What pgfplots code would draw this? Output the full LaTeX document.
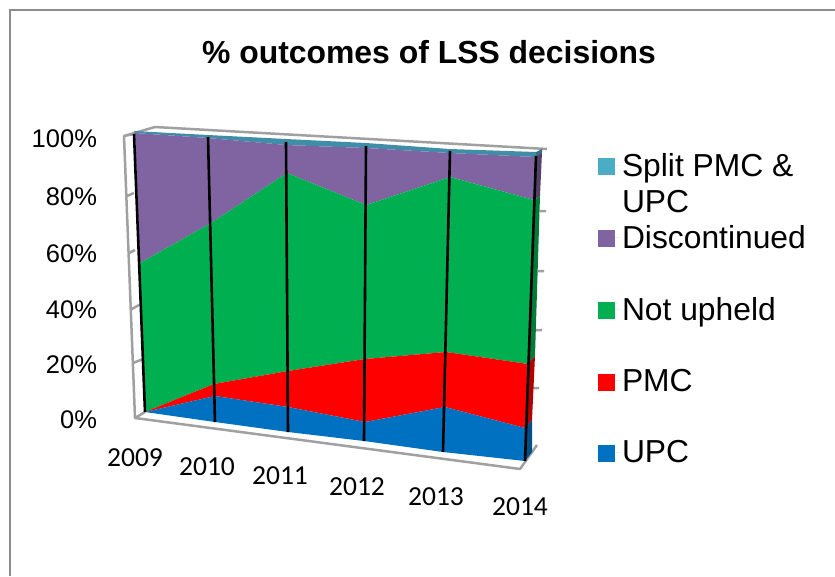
\documentclass[border=0pt]{standalone}
\usepackage{fontspec}
\setmainfont{Liberation Sans}
\newfontfamily\calibri{Carlito}
\usepackage{pgfplots}
\pgfplotsset{compat=1.18}
\definecolor{split}{HTML}{4BACC6}
\definecolor{splittop}{HTML}{3F8DA6}
\definecolor{disc}{HTML}{8064A2}
\definecolor{nup}{HTML}{00B050}
\definecolor{pmc}{HTML}{FF0000}
\definecolor{upc}{HTML}{0070C0}
\definecolor{wall}{HTML}{A0A0A0}
\begin{document}
\begin{tikzpicture}[
    ylab/.style={anchor=east, font=\fontsize{25.5}{28}\selectfont},
    xlab/.style={font=\calibri\fontsize{27.5}{30}\selectfont},
]
\useasboundingbox (0,0) rectangle (835pt,576pt);
\begin{axis}[
    at={(0,0)}, anchor=south west,
    scale only axis, width=835pt, height=576pt,
    xmin=0, xmax=835, ymin=0, ymax=576,
    y dir=reverse,
    hide axis,
    legend cell align=left,
    legend style={at={(axis cs:598,151)}, anchor=north west, draw=none, fill=none,
        inner sep=0pt, outer sep=0pt, row sep=43.5pt,
        font=\fontsize{31.8}{36}\selectfont},
    legend image code/.code={\fill[#1] (0pt,-10pt) rectangle (17pt,7pt); \path[draw=none] (0pt,0pt) -- (22pt,0pt);},
]
% chart frame
\draw[color=gray!90, line width=2pt] (10,576) -- (10,10) -- (835,10);
\node[font=\bfseries\fontsize{31.9}{34}\selectfont] at (429,52) {\% outcomes of LSS decisions};

% walls and floor, all positions in pixels of the 3-D projection
\draw[wall, line width=2.5pt, line join=round]
    (155,127) -- (547,149)
    (155,127) -- (124,136) -- (135,418) -- (520,469) -- (537,445)
    (124,136) -- (134,134)
    (135,418) -- (145,412)
    (127,196) -- (134,193) (129,253) -- (135,250) (132,309) -- (139,305) (133,363) -- (143,359)
    (540,211) -- (546,211) (538,271) -- (544,271) (536,330) -- (542,330) (533,388) -- (539,388);

% stacked areas, front face
\addplot[draw=none, fill=splittop, legend image post style={fill=split}] coordinates {
    (134,131) (208,135) (286,139) (366,143) (450,149) (536,152)
    (536,157) (450,153) (366,148) (286,145) (208,138) (135,133)};
\addlegendentry{\parbox[t]{190pt}{Split PMC \&\\UPC}}
\addplot[draw=none, fill=disc] coordinates {
    (135,133) (208,138) (286,145) (366,148) (450,153) (536,157)
    (534,200) (450,177) (366,205) (287,173) (211,223) (140,263)};
\addlegendentry{Discontinued}
\addplot[draw=none, fill=nup] coordinates {
    (140,263) (211,223) (287,173) (366,205) (450,177) (534,200)
    (528,364) (446,352) (365,359) (288,371) (214,384) (145,412)};
\addlegendentry{Not upheld}
\addplot[draw=none, fill=pmc] coordinates {
    (145,412) (214,384) (288,371) (365,359) (446,352) (528,364)
    (525,428) (445,407) (365,422) (288,407) (215,396)};
\addlegendentry{PMC}
\addplot[draw=none, fill=upc] coordinates {
    (145,412) (215,396) (288,407) (365,422) (445,407) (525,428)
    (525,461) (443,452) (364,441) (288,432) (215,422)};
\addlegendentry{UPC}

% right-hand side of the solid
\addplot[forget plot, draw=none, fill=splittop!80!black] coordinates {(536,152) (542,149) (542,152) (536,157)};
\addplot[forget plot, draw=none, fill=disc!65!black] coordinates {(536,157) (542,152) (540,196) (534,200)};
\addplot[forget plot, draw=none, fill=nup!70!black] coordinates {(534,200) (540,196) (535,356) (528,364)};
\addplot[forget plot, draw=none, fill=pmc!70!black] coordinates {(528,364) (535,356) (532,420) (525,428)};
\addplot[forget plot, draw=none, fill=upc!70!black] coordinates {(525,428) (532,420) (532,452) (525,461)};

% black drop lines
\addplot[forget plot, black, line width=2.6pt] coordinates {(134,134) (145,412)};
\addplot[forget plot, black, line width=2.6pt] coordinates {(208,137) (215,422)};
\addplot[forget plot, black, line width=2.6pt] coordinates {(286,142) (288,432)};
\addplot[forget plot, black, line width=2.6pt] coordinates {(366,146) (364,441)};
\addplot[forget plot, black, line width=2.6pt] coordinates {(450,151) (443,452)};
\addplot[forget plot, black, line width=2.6pt] coordinates {(536,156) (525,461)};

% y tick labels
\node[ylab] at (100.5,139) {100\%};
\node[ylab] at (100.5,197) {80\%};
\node[ylab] at (100.5,254) {60\%};
\node[ylab] at (100.5,310) {40\%};
\node[ylab] at (100.5,365) {20\%};
\node[ylab] at (100.5,420) {0\%};
% x tick labels
\node[xlab] at (135,458) {2009};
\node[xlab] at (207,467) {2010};
\node[xlab] at (280,476) {2011};
\node[xlab] at (357,487) {2012};
\node[xlab] at (436,497) {2013};
\node[xlab] at (520,507) {2014};
\end{axis}
\end{tikzpicture}
\end{document}
